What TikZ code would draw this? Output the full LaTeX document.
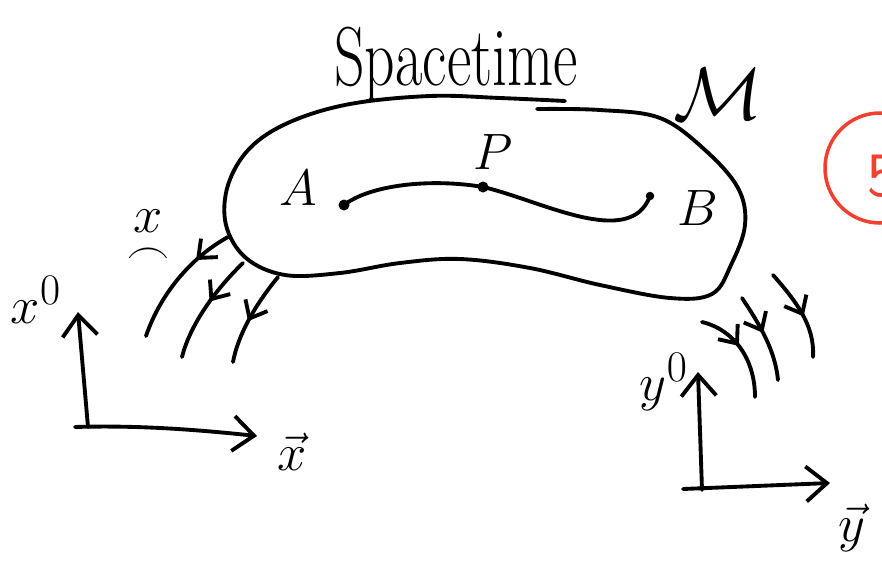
\documentclass[tikz,border=0pt]{standalone}
\usepackage{amsmath}
\usepackage{graphicx}
\usetikzlibrary{arrows.meta, decorations.markings}
\definecolor{badgered}{HTML}{F0402F}
\newcommand{\handmath}[2]{\scalebox{#1}{$#2$}}

\begin{document}
\begin{tikzpicture}[
  x=0.02cm, y=-0.02cm, line cap=round, line join=round,
  ink/.style={draw=black, line width=2.2pt},
  axisline/.style={ink, -{Straight Barb[length=0.42cm, width=0.7cm]}},
  worldline/.style={ink, postaction={decorate}, decoration={markings, mark=at position #1 with {\arrow{Straight Barb[length=0.3cm, width=0.5cm]}}}},
  hand/.style={inner sep=0pt, font=\Huge},
  event/.style={circle, fill=black, inner sep=0pt, minimum size=0.22cm},
]
\useasboundingbox (0,0) rectangle (882,565);

% title and manifold
\node[hand, font=\fontsize{34}{40}\selectfont] (title) at (456,64) {\scalebox{1}[1.4]{Spacetime}};
\node[hand] (manifold) at (718,94) {\handmath{1.7}{\mathcal{M}}};

% the region of spacetime
\draw[ink] plot[smooth, tension=0.6] coordinates {(537,109) (600,110) (660,118) (705,150) (738,188) (745,225) (731,265) (712,294) (670,298) (600,285) (530,268) (460,259) (400,263) (340,273) (285,275) (246,258) (226,225) (228,185) (250,148) (290,122) (350,104) (430,96) (500,98) (565,101)};

% curve through the events
\node[event] (A) at (344,205) {};
\node[event] (P) at (483,187) {};
\node[event, minimum size=0.17cm] (B) at (650,196) {};
\draw[ink] (A.center) .. controls (370,185) and (430,178) .. (P.center) .. controls (540,200) and (630,250) .. (B.center);
\node[hand] (labA) at (298,188) {\handmath{1.17}{A}};
\node[hand] (labP) at (493,152) {\handmath{1.17}{P}};
\node[hand] (labB) at (698,208) {\handmath{1.17}{B}};

% observer x
\draw[worldline=0.3] (228,237) .. controls (190,258) and (160,295) .. (146,336);
\draw[worldline=0.45] (243,263) .. controls (215,290) and (190,325) .. (182,357);
\draw[worldline=0.55] (278,277) .. controls (255,305) and (238,335) .. (233,362);
\node[hand] (labxt) at (148,240) {\handmath{1.2}{\underset{\frown}{x}}};
\coordinate (xorigin) at (88,427);
\draw[axisline] (xorigin) -- (78,312);
\draw[axisline] (75,427) .. controls (140,425) and (200,430) .. (257,436);
\node[hand] (labx0) at (36,300) {\handmath{1.2}{x^0}};
\node[hand] (labxv) at (292,452) {\handmath{1.2}{\vec{x}}};

% observer y
\draw[worldline=0.45] (702,322) .. controls (735,330) and (755,360) .. (755,397);
\draw[worldline=0.45] (742,298) .. controls (760,325) and (775,350) .. (778,380);
\draw[worldline=0.55] (773,275) .. controls (795,300) and (815,325) .. (813,357);
\coordinate (yorigin) at (702,490);
\draw[axisline] (yorigin) -- (698,372);
\draw[axisline] (683,489) -- (830,483);
\node[hand] (laby0) at (664,382) {\handmath{1.2}{y^0}};
\node[hand] (labyv) at (852,528) {\handmath{1.2}{\vec{y}}};

% page badge
\draw[badgered, line width=2pt] (880,168) circle (55);
\node[hand, text=badgered, font=\fontsize{36}{40}\selectfont\sffamily] (badge) at (882,176) {5};
\end{tikzpicture}
\end{document}
